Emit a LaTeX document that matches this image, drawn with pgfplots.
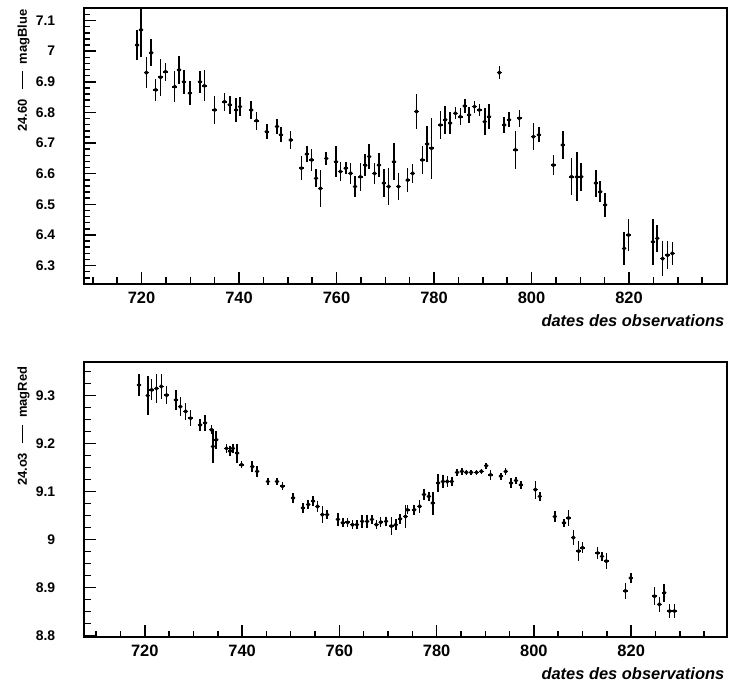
\documentclass[border=0pt]{standalone}
\usepackage{fontspec}
\setmainfont{Liberation Sans}
\usepackage{pgfplots}
\pgfplotsset{compat=1.18}
\usepackage{pgfplotstable}

% Blue light curve: date, 24.60 - magBlue, error
\pgfplotstableread{
x y ey
719.1 7.020 0.050
719.9 7.070 0.090
721.0 6.930 0.050
722.0 6.995 0.045
722.9 6.874 0.035
723.9 6.915 0.060
724.9 6.933 0.030
726.8 6.884 0.050
727.7 6.939 0.045
728.7 6.900 0.040
729.9 6.863 0.040
732.0 6.900 0.035
732.9 6.887 0.050
735.0 6.808 0.045
737.0 6.835 0.030
738.1 6.825 0.030
739.4 6.808 0.040
740.2 6.819 0.030
742.5 6.808 0.030
743.6 6.773 0.030
745.7 6.737 0.025
747.8 6.754 0.025
748.6 6.727 0.025
750.6 6.710 0.030
752.8 6.618 0.040
753.9 6.664 0.027
754.9 6.645 0.035
755.8 6.585 0.030
756.7 6.552 0.060
757.9 6.650 0.022
759.9 6.639 0.050
760.8 6.607 0.030
761.9 6.618 0.020
762.9 6.601 0.035
763.8 6.558 0.035
764.9 6.590 0.045
765.9 6.628 0.035
766.7 6.656 0.040
767.8 6.601 0.035
768.7 6.628 0.040
769.7 6.569 0.045
770.7 6.558 0.060
771.8 6.639 0.060
772.7 6.558 0.045
774.6 6.579 0.040
775.6 6.601 0.032
776.4 6.803 0.057
777.6 6.645 0.045
778.6 6.697 0.060
779.5 6.683 0.100
781.3 6.759 0.045
782.3 6.776 0.045
783.3 6.765 0.035
784.4 6.797 0.020
785.4 6.786 0.027
786.3 6.821 0.022
787.2 6.792 0.025
788.3 6.819 0.020
789.3 6.808 0.020
790.4 6.770 0.045
791.3 6.786 0.040
793.4 6.930 0.020
794.4 6.759 0.027
795.4 6.776 0.025
796.7 6.678 0.063
797.5 6.781 0.027
800.4 6.721 0.045
801.5 6.727 0.025
804.5 6.628 0.033
806.4 6.694 0.046
808.2 6.590 0.060
809.3 6.590 0.080
810.2 6.590 0.046
813.2 6.569 0.044
814.1 6.541 0.034
815.1 6.498 0.040
819.0 6.356 0.055
819.9 6.400 0.053
824.9 6.378 0.075
825.8 6.389 0.045
826.9 6.323 0.057
827.9 6.334 0.046
828.9 6.340 0.038
}\bluedata

% Red light curve: date, 24.03 - magRed, error
\pgfplotstableread{
x y ey
718.8 9.322 0.022
720.6 9.300 0.040
721.4 9.312 0.022
722.4 9.315 0.030
723.4 9.319 0.026
724.5 9.301 0.019
726.4 9.291 0.020
727.3 9.277 0.020
728.4 9.267 0.017
729.4 9.253 0.017
731.4 9.239 0.012
732.4 9.243 0.017
733.7 9.229 0.010
734.0 9.194 0.035
734.7 9.208 0.019
736.8 9.190 0.010
737.5 9.184 0.010
738.1 9.190 0.010
739.0 9.180 0.020
739.9 9.156 0.007
742.1 9.152 0.012
743.1 9.142 0.012
745.3 9.121 0.008
747.2 9.121 0.008
748.3 9.111 0.008
750.5 9.087 0.010
752.5 9.066 0.010
753.6 9.073 0.009
754.6 9.080 0.010
755.5 9.069 0.012
756.5 9.052 0.017
757.5 9.052 0.010
759.7 9.042 0.014
760.7 9.035 0.009
761.7 9.036 0.009
762.7 9.031 0.010
763.6 9.031 0.009
764.7 9.038 0.014
765.7 9.038 0.014
766.7 9.042 0.009
767.6 9.031 0.009
768.5 9.036 0.010
769.6 9.038 0.009
770.7 9.028 0.019
771.6 9.031 0.012
772.5 9.043 0.010
773.6 9.048 0.024
774.0 9.062 0.009
775.4 9.062 0.010
776.5 9.069 0.014
777.4 9.094 0.012
778.4 9.090 0.010
779.2 9.076 0.024
780.3 9.118 0.019
781.3 9.121 0.014
782.2 9.121 0.012
783.1 9.121 0.010
784.2 9.140 0.007
785.2 9.142 0.008
786.1 9.140 0.006
787.1 9.140 0.006
788.2 9.140 0.006
789.2 9.142 0.006
790.2 9.154 0.006
791.1 9.135 0.010
793.2 9.132 0.007
794.2 9.142 0.008
795.3 9.118 0.010
796.3 9.123 0.008
797.3 9.114 0.008
800.3 9.104 0.019
801.2 9.090 0.009
804.3 9.048 0.012
806.2 9.035 0.008
807.1 9.045 0.016
808.1 9.004 0.016
809.2 8.976 0.021
810.0 8.983 0.012
813.1 8.972 0.012
814.0 8.965 0.010
814.9 8.955 0.016
818.8 8.893 0.017
819.9 8.920 0.010
824.8 8.882 0.019
825.8 8.865 0.016
826.8 8.889 0.019
827.9 8.851 0.014
828.9 8.851 0.014
}\reddata

% tick strokes along the lower and left frame lines
\tikzset{tickstroke/.style={line width=1.5bp, black}}

\pgfplotsset{
  lightcurve/.style={
    scale only axis, width=643bp, anchor=south west,
    line width=1.5bp,
    xtick pos=bottom, ytick pos=left,
    major tick length=12bp, minor tick length=6.5bp,
    tick style={line width=1.5bp, black},
    xtick={720,740,760,780,800,820},
    xticklabels={720,740,760,780,800,820},
    minor xtick={710,715,725,730,735,745,750,755,765,770,775,785,790,795,805,810,815,825,830,835},
    xticklabel style={font=\bfseries\fontsize{16.5}{16.5}\selectfont, inner sep=0pt, anchor=north, yshift=-7bp},
    yticklabel style={font=\bfseries\fontsize{14}{14}\selectfont, inner sep=0pt, anchor=east, xshift=-28bp},
    xlabel={dates des observations},
    every axis x label/.style={anchor=base east, inner sep=0pt,
      font=\bfseries\itshape\fontsize{16.5}{17}\selectfont},
    every axis y label/.style={rotate=90, anchor=base east, inner sep=0pt,
      font=\bfseries\fontsize{13}{14}\selectfont},
  },
  obs/.style={only marks, mark=*, mark size=1.5bp, black, line width=1.2bp,
    error bars/.cd, y dir=both, y explicit, x dir=both, x fixed=0.45,
    error mark=none, error bar style={line width=1.6bp, black}},
}

\begin{document}
\begin{tikzpicture}
\useasboundingbox (0,0) rectangle (729bp,688bp);

% upper panel: blue magnitudes
\begin{axis}[lightcurve,
  at={(84bp,404bp)}, height=276bp,
  xmin=708.2, xmax=840.1, ymin=6.24, ymax=7.141,
  ytick={6.3,6.4,6.5,6.6,6.7,6.8,6.9,7,7.1},
  yticklabels={6.3,6.4,6.5,6.6,6.7,6.8,6.9,7,7.1},
  minor ytick={6.24,6.26,...,7.14},
  ylabel={24.60\hspace{10bp}\rule[0.3em]{18bp}{1.3bp}\hspace{7bp}magBlue},
  x label style={at={(rel axis cs:0.99689,-0.1558)}},
  y label style={at={(rel axis cs:-0.08865,0.99638)}},
]
\addplot[obs] table[x=x, y=y, y error=ey] {\bluedata};
\pgfplotsinvokeforeach{720,740,760,780,800,820}{
  \draw[tickstroke] (axis cs:#1,6.24) -- ++(0,12bp);}
\pgfplotsinvokeforeach{710,715,725,730,735,745,750,755,765,770,775,785,790,795,805,810,815,825,830,835}{
  \draw[tickstroke] (axis cs:#1,6.24) -- ++(0,6.5bp);}
\pgfplotsinvokeforeach{6.3,6.4,6.5,6.6,6.7,6.8,6.9,7.0,7.1}{
  \draw[tickstroke] (axis cs:708.2,#1) -- ++(13bp,0);}
\pgfplotsinvokeforeach{6.26,6.28,6.32,6.34,6.36,6.38,6.42,6.44,6.46,6.48,6.52,6.54,6.56,6.58,6.62,6.64,6.66,6.68,6.72,6.74,6.76,6.78,6.82,6.84,6.86,6.88,6.92,6.94,6.96,6.98,7.02,7.04,7.06,7.08,7.12}{
  \draw[tickstroke] (axis cs:708.2,#1) -- ++(7.5bp,0);}
\end{axis}

% lower panel: red magnitudes
\begin{axis}[lightcurve,
  at={(84bp,51bp)}, height=275bp,
  xmin=707.5, xmax=839.7, ymin=8.797, ymax=9.37,
  ytick={8.8,8.9,9,9.1,9.2,9.3},
  yticklabels={8.8,8.9,9,9.1,9.2,9.3},
  minor ytick={8.825,8.85,...,9.375},
  ylabel={24.o3\hspace{10bp}\rule[0.3em]{18bp}{1.3bp}\hspace{7bp}magRed},
  x label style={at={(rel axis cs:0.99689,-0.15636)}},
  y label style={at={(rel axis cs:-0.08865,0.98545)}},
]
\addplot[obs] table[x=x, y=y, y error=ey] {\reddata};
\pgfplotsinvokeforeach{720,740,760,780,800,820}{
  \draw[tickstroke] (axis cs:#1,8.797) -- ++(0,12bp);}
\pgfplotsinvokeforeach{710,715,725,730,735,745,750,755,765,770,775,785,790,795,805,810,815,825,830,835}{
  \draw[tickstroke] (axis cs:#1,8.797) -- ++(0,6.5bp);}
\pgfplotsinvokeforeach{8.8,8.9,9.0,9.1,9.2,9.3}{
  \draw[tickstroke] (axis cs:707.5,#1) -- ++(15bp,0);}
\pgfplotsinvokeforeach{8.825,8.85,8.875,8.925,8.95,8.975,9.025,9.05,9.075,9.125,9.15,9.175,9.225,9.25,9.275,9.325,9.35}{
  \draw[tickstroke] (axis cs:707.5,#1) -- ++(9bp,0);}
\end{axis}
\end{tikzpicture}
\end{document}
